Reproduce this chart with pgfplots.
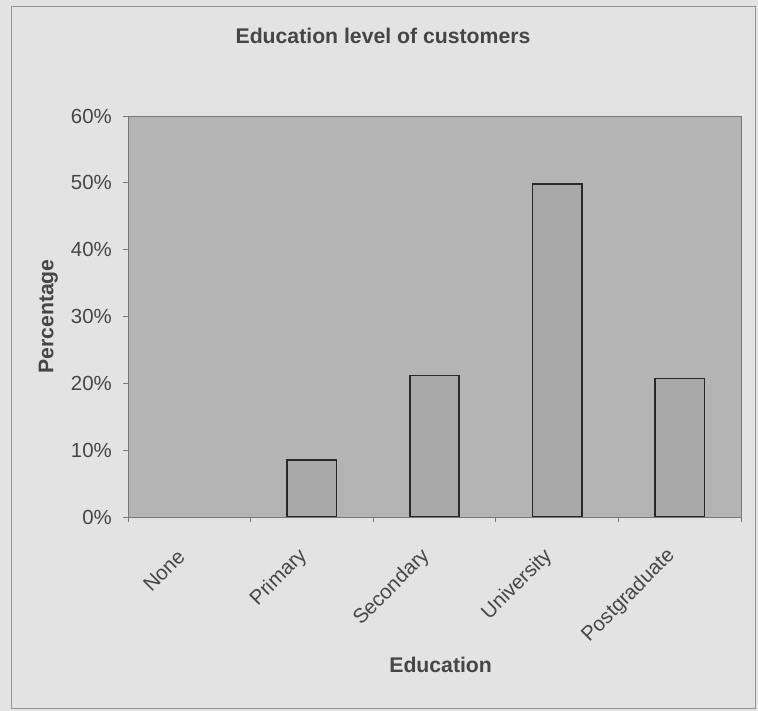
\documentclass[border=0pt]{standalone}
\usepackage{fontspec}
\setmainfont{Liberation Sans}
\usepackage{pgfplots}
\pgfplotsset{compat=1.18}

\definecolor{paper}{RGB}{227,227,227}
\definecolor{plotbg}{RGB}{180,180,180}
\definecolor{barfill}{RGB}{168,168,168}
\definecolor{barline}{RGB}{40,40,40}
\definecolor{axgray}{RGB}{120,120,120}
\definecolor{framegray}{RGB}{150,150,150}
\definecolor{txt}{RGB}{70,70,70}

\begin{document}
\begin{tikzpicture}[x=1bp,y=1bp]
\path[use as bounding box] (0,0) rectangle (758,711);
\fill[paper] (0,0) rectangle (758,711);
\draw[framegray, line width=1bp] (11,2) rectangle (755,704);
\begin{axis}[
  at={(128bp,194bp)}, anchor=south west,
  scale only axis, width=613bp, height=401bp,
  xmin=-0.5, xmax=4.5, ymin=0, ymax=60,
  axis background/.style={fill=plotbg},
  axis line style={draw=axgray, line width=0.8bp},
  tick align=outside, major tick length=5bp, tick pos=left,
  tick style={draw=axgray, line width=0.8bp},
  ytick={0,10,...,60},
  yticklabels={0\%,10\%,20\%,30\%,40\%,50\%,60\%},
  xtick={-0.5,0.5,...,4.5},
  x tick label as interval,
  xticklabels={None,Primary,Secondary,University,Postgraduate},
  every tick label/.append style={font=\fontsize{20.5}{24}\selectfont, text=txt},
  yticklabel style={inner sep=0pt, xshift=-11bp},
  xticklabel style={inner sep=0pt, xshift=-8bp, yshift=-31bp, rotate=45, anchor=east},
  title={Education level of customers},
  title style={at={(axis description cs:0.416,1.165)}, anchor=base, yshift=0pt,
    font=\fontsize{21.3}{25}\selectfont\bfseries, text=txt},
  xlabel={Education},
  xlabel style={at={(axis description cs:0.51,-0.389)}, anchor=base,
    font=\fontsize{21.3}{25}\selectfont\bfseries, text=txt},
  ylabel={Percentage},
  ylabel style={at={(axis description cs:-0.13,0.5)}, anchor=center,
    font=\fontsize{21.3}{25}\selectfont\bfseries, text=txt},
  ybar, bar width=49.5bp,
]
\addplot[fill=barfill, draw=barline, line width=1.6bp]
  coordinates {(1,8.5) (2,21.2) (3,49.8) (4,20.7)};
\end{axis}
\end{tikzpicture}
\end{document}
